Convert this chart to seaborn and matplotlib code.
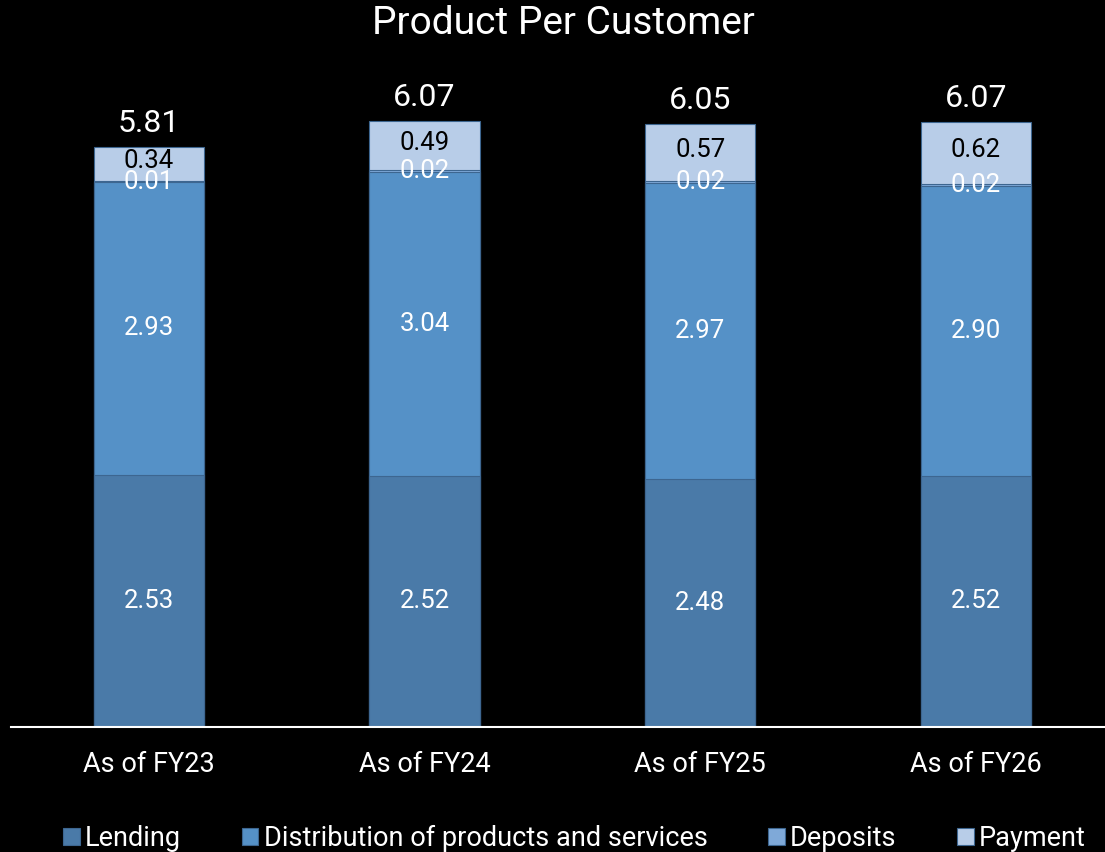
import numpy as np
import pandas as pd
import seaborn as sns
import matplotlib.pyplot as plt

# dados do gráfico
anos = ["As of FY23", "As of FY24", "As of FY25", "As of FY26"]
lending = [2.53, 2.52, 2.48, 2.52]
distribuicao = [2.93, 3.04, 2.97, 2.90]
depositos = [0.01, 0.02, 0.02, 0.02]
pagamento = [0.34, 0.49, 0.57, 0.62]
totais = [5.81, 6.07, 6.05, 6.07]

series = ["Lending", "Distribution of products and services", "Deposits", "Payment"]
cores = ["#4a7aa8", "#5591c7", "#7fa9d8", "#b8cde8"]
cor_texto = ["white", "white", "white", "black"]

df = pd.DataFrame({"ano": anos, "Lending": lending,
                   "Distribution of products and services": distribuicao,
                   "Deposits": depositos, "Payment": pagamento})
acumulado = df[series].cumsum(axis=1)

sns.set_style("dark")
plt.rcParams["font.family"] = ["Roboto", "DejaVu Sans"]

fig = plt.figure(figsize=(11.05, 8.52), dpi=100, facecolor="black")
ax = fig.add_axes([0.0102, 0.1467, 0.99, 0.82])
ax.set_facecolor("black")

# barras empilhadas: desenha do topo para baixo
for i in reversed(range(len(series))):
    sns.barplot(x=df["ano"], y=acumulado[series[i]], color=cores[i], width=0.4,
                edgecolor="#3d6690", linewidth=0.8, saturation=1, ax=ax,
                label=series[i])

# rótulos de cada segmento
for j in range(len(anos)):
    base = 0
    for i, s in enumerate(series):
        v = df[s][j]
        y = base + v / 2
        if s == "Payment":
            y += 0.03
        ax.text(j, y, f"{v:.2f}", ha="center", va="center",
                color=cor_texto[i], fontsize=18.5)
        base += v
    ax.text(j, acumulado["Payment"][j] + 0.09, f"{totais[j]:.2f}", ha="center",
            va="bottom", color="white", fontsize=23)

ax.set_xlim(-0.5, 3.47)
ax.set_ylim(0, 7)
ax.set_yticks([])
ax.set_xlabel("")
ax.set_ylabel("")
ax.grid(False)
for lado in ["top", "right", "left"]:
    ax.spines[lado].set_visible(False)
ax.spines["bottom"].set_color("white")
ax.spines["bottom"].set_linewidth(1.5)
ax.tick_params(axis="x", colors="white", labelsize=19.5, length=0, pad=17)

fig.text(0.51, 0.972, "Product Per Customer", ha="center", va="center",
         color="white", fontsize=28)

handles, labels = ax.get_legend_handles_labels()
ordem = [labels.index(s) for s in series]
ax.legend([handles[k] for k in ordem], series, loc="lower center",
          bbox_to_anchor=(0.515, -0.195), ncol=4, frameon=False,
          fontsize=19.5, labelcolor="white", handlelength=0.6, handleheight=0.6,
          handletextpad=0.2, columnspacing=2.25, borderaxespad=0)

fig.savefig("out.png", dpi=100, facecolor="black")
